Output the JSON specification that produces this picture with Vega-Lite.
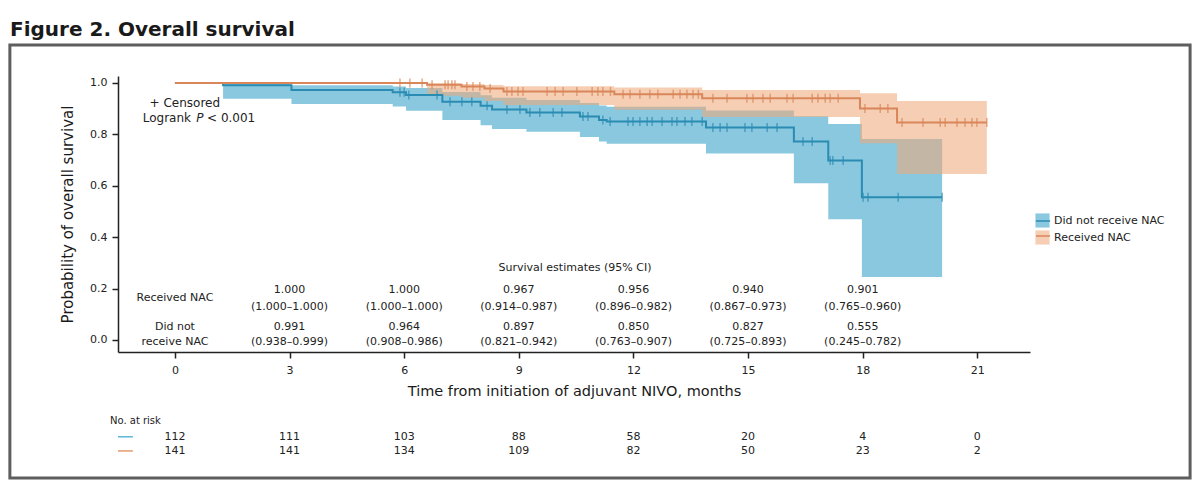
{
  "$schema": "https://vega.github.io/schema/vega-lite/v6.json",
  "width": 912,
  "height": 276,
  "autosize": "none",
  "padding": {"left": 118, "top": 76, "right": 170, "bottom": 136},
  "background": "white",
  "title": {"text": "Figure 2. Overall survival", "anchor": "start", "frame": "group", "dx": -108, "offset": 3, "font": "DejaVu Sans", "fontSize": 20, "fontWeight": "bold", "color": "#1a1a1a"},
  "config": {
    "view": {"stroke": null},
    "font": "DejaVu Sans",
    "text": {"font": "DejaVu Sans", "color": "#222"},
    "axis": {"domainColor": "#222", "tickColor": "#222", "domainWidth": 1.5, "tickWidth": 1.5, "tickSize": 6, "grid": false, "labelFont": "DejaVu Sans", "labelFontSize": 11, "labelColor": "#222", "titleFont": "DejaVu Sans", "titleFontWeight": "normal", "titleColor": "#1a1a1a"}
  },
  "datasets": {
    "km": [
      {"group": "Did not receive NAC", "t": 0, "s": 1.0, "lo": 1.0, "hi": 1.0},
      {"group": "Did not receive NAC", "t": 1.26, "s": 0.991, "lo": 0.938, "hi": 0.999},
      {"group": "Did not receive NAC", "t": 3.05, "s": 0.973, "lo": 0.918, "hi": 0.991},
      {"group": "Did not receive NAC", "t": 5.7, "s": 0.964, "lo": 0.908, "hi": 0.986},
      {"group": "Did not receive NAC", "t": 6.05, "s": 0.953, "lo": 0.892, "hi": 0.98},
      {"group": "Did not receive NAC", "t": 7.0, "s": 0.927, "lo": 0.856, "hi": 0.965},
      {"group": "Did not receive NAC", "t": 8.0, "s": 0.911, "lo": 0.835, "hi": 0.952},
      {"group": "Did not receive NAC", "t": 8.3, "s": 0.897, "lo": 0.821, "hi": 0.942},
      {"group": "Did not receive NAC", "t": 9.2, "s": 0.885, "lo": 0.81, "hi": 0.934},
      {"group": "Did not receive NAC", "t": 10.6, "s": 0.869, "lo": 0.79, "hi": 0.922},
      {"group": "Did not receive NAC", "t": 11.1, "s": 0.856, "lo": 0.772, "hi": 0.912},
      {"group": "Did not receive NAC", "t": 11.3, "s": 0.85, "lo": 0.763, "hi": 0.907},
      {"group": "Did not receive NAC", "t": 13.9, "s": 0.827, "lo": 0.725, "hi": 0.893},
      {"group": "Did not receive NAC", "t": 16.2, "s": 0.772, "lo": 0.61, "hi": 0.87},
      {"group": "Did not receive NAC", "t": 17.1, "s": 0.698, "lo": 0.47, "hi": 0.84},
      {"group": "Did not receive NAC", "t": 17.98, "s": 0.555, "lo": 0.245, "hi": 0.782},
      {"group": "Did not receive NAC", "t": 20.08, "s": 0.555, "lo": 0.245, "hi": 0.782},
      {"group": "Received NAC", "t": 0, "s": 1.0, "lo": 1.0, "hi": 1.0},
      {"group": "Received NAC", "t": 6.6, "s": 0.993, "lo": 0.95, "hi": 0.999},
      {"group": "Received NAC", "t": 7.5, "s": 0.986, "lo": 0.942, "hi": 0.996},
      {"group": "Received NAC", "t": 8.1, "s": 0.978, "lo": 0.93, "hi": 0.992},
      {"group": "Received NAC", "t": 8.6, "s": 0.967, "lo": 0.914, "hi": 0.987},
      {"group": "Received NAC", "t": 11.5, "s": 0.956, "lo": 0.896, "hi": 0.982},
      {"group": "Received NAC", "t": 13.8, "s": 0.94, "lo": 0.867, "hi": 0.973},
      {"group": "Received NAC", "t": 17.93, "s": 0.901, "lo": 0.765, "hi": 0.96},
      {"group": "Received NAC", "t": 18.9, "s": 0.846, "lo": 0.646, "hi": 0.93},
      {"group": "Received NAC", "t": 21.25, "s": 0.846, "lo": 0.646, "hi": 0.93}
    ],
    "censor": [
      {"group": "Did not receive NAC", "t": 5.89, "s": 0.964},
      {"group": "Did not receive NAC", "t": 6.0, "s": 0.964},
      {"group": "Did not receive NAC", "t": 6.12, "s": 0.953},
      {"group": "Did not receive NAC", "t": 6.86, "s": 0.953},
      {"group": "Did not receive NAC", "t": 7.2, "s": 0.927},
      {"group": "Did not receive NAC", "t": 7.51, "s": 0.927},
      {"group": "Did not receive NAC", "t": 7.77, "s": 0.927},
      {"group": "Did not receive NAC", "t": 8.17, "s": 0.911},
      {"group": "Did not receive NAC", "t": 8.69, "s": 0.897},
      {"group": "Did not receive NAC", "t": 9.03, "s": 0.897},
      {"group": "Did not receive NAC", "t": 9.29, "s": 0.885},
      {"group": "Did not receive NAC", "t": 9.55, "s": 0.885},
      {"group": "Did not receive NAC", "t": 9.9, "s": 0.885},
      {"group": "Did not receive NAC", "t": 10.13, "s": 0.885},
      {"group": "Did not receive NAC", "t": 10.68, "s": 0.869},
      {"group": "Did not receive NAC", "t": 10.81, "s": 0.869},
      {"group": "Did not receive NAC", "t": 11.2, "s": 0.856},
      {"group": "Did not receive NAC", "t": 11.39, "s": 0.85},
      {"group": "Did not receive NAC", "t": 11.86, "s": 0.85},
      {"group": "Did not receive NAC", "t": 11.99, "s": 0.85},
      {"group": "Did not receive NAC", "t": 12.17, "s": 0.85},
      {"group": "Did not receive NAC", "t": 12.36, "s": 0.85},
      {"group": "Did not receive NAC", "t": 12.49, "s": 0.85},
      {"group": "Did not receive NAC", "t": 12.75, "s": 0.85},
      {"group": "Did not receive NAC", "t": 13.01, "s": 0.85},
      {"group": "Did not receive NAC", "t": 13.14, "s": 0.85},
      {"group": "Did not receive NAC", "t": 13.35, "s": 0.85},
      {"group": "Did not receive NAC", "t": 13.53, "s": 0.85},
      {"group": "Did not receive NAC", "t": 13.8, "s": 0.85},
      {"group": "Did not receive NAC", "t": 14.08, "s": 0.827},
      {"group": "Did not receive NAC", "t": 14.27, "s": 0.827},
      {"group": "Did not receive NAC", "t": 14.45, "s": 0.827},
      {"group": "Did not receive NAC", "t": 14.92, "s": 0.827},
      {"group": "Did not receive NAC", "t": 15.1, "s": 0.827},
      {"group": "Did not receive NAC", "t": 15.5, "s": 0.827},
      {"group": "Did not receive NAC", "t": 15.76, "s": 0.827},
      {"group": "Did not receive NAC", "t": 16.44, "s": 0.772},
      {"group": "Did not receive NAC", "t": 16.68, "s": 0.772},
      {"group": "Did not receive NAC", "t": 17.15, "s": 0.698},
      {"group": "Did not receive NAC", "t": 17.22, "s": 0.698},
      {"group": "Did not receive NAC", "t": 17.49, "s": 0.698},
      {"group": "Did not receive NAC", "t": 18.01, "s": 0.555},
      {"group": "Did not receive NAC", "t": 18.14, "s": 0.555},
      {"group": "Did not receive NAC", "t": 18.93, "s": 0.555},
      {"group": "Did not receive NAC", "t": 20.08, "s": 0.555},
      {"group": "Received NAC", "t": 5.89, "s": 1.0},
      {"group": "Received NAC", "t": 6.15, "s": 1.0},
      {"group": "Received NAC", "t": 6.47, "s": 1.0},
      {"group": "Received NAC", "t": 6.73, "s": 0.993},
      {"group": "Received NAC", "t": 7.07, "s": 0.993},
      {"group": "Received NAC", "t": 7.15, "s": 0.993},
      {"group": "Received NAC", "t": 7.25, "s": 0.993},
      {"group": "Received NAC", "t": 7.33, "s": 0.993},
      {"group": "Received NAC", "t": 7.64, "s": 0.986},
      {"group": "Received NAC", "t": 7.8, "s": 0.986},
      {"group": "Received NAC", "t": 7.98, "s": 0.986},
      {"group": "Received NAC", "t": 8.25, "s": 0.978},
      {"group": "Received NAC", "t": 8.69, "s": 0.967},
      {"group": "Received NAC", "t": 8.82, "s": 0.967},
      {"group": "Received NAC", "t": 8.98, "s": 0.967},
      {"group": "Received NAC", "t": 9.11, "s": 0.967},
      {"group": "Received NAC", "t": 9.74, "s": 0.967},
      {"group": "Received NAC", "t": 9.95, "s": 0.967},
      {"group": "Received NAC", "t": 10.16, "s": 0.967},
      {"group": "Received NAC", "t": 10.52, "s": 0.967},
      {"group": "Received NAC", "t": 10.92, "s": 0.967},
      {"group": "Received NAC", "t": 11.07, "s": 0.967},
      {"group": "Received NAC", "t": 11.2, "s": 0.967},
      {"group": "Received NAC", "t": 11.4, "s": 0.967},
      {"group": "Received NAC", "t": 11.73, "s": 0.956},
      {"group": "Received NAC", "t": 11.91, "s": 0.956},
      {"group": "Received NAC", "t": 12.17, "s": 0.956},
      {"group": "Received NAC", "t": 12.43, "s": 0.956},
      {"group": "Received NAC", "t": 12.64, "s": 0.956},
      {"group": "Received NAC", "t": 13.04, "s": 0.956},
      {"group": "Received NAC", "t": 13.22, "s": 0.956},
      {"group": "Received NAC", "t": 13.4, "s": 0.956},
      {"group": "Received NAC", "t": 13.56, "s": 0.956},
      {"group": "Received NAC", "t": 13.7, "s": 0.956},
      {"group": "Received NAC", "t": 14.08, "s": 0.94},
      {"group": "Received NAC", "t": 14.45, "s": 0.94},
      {"group": "Received NAC", "t": 14.97, "s": 0.94},
      {"group": "Received NAC", "t": 15.13, "s": 0.94},
      {"group": "Received NAC", "t": 15.39, "s": 0.94},
      {"group": "Received NAC", "t": 15.58, "s": 0.94},
      {"group": "Received NAC", "t": 16.02, "s": 0.94},
      {"group": "Received NAC", "t": 16.18, "s": 0.94},
      {"group": "Received NAC", "t": 16.68, "s": 0.94},
      {"group": "Received NAC", "t": 16.83, "s": 0.94},
      {"group": "Received NAC", "t": 17.02, "s": 0.94},
      {"group": "Received NAC", "t": 17.15, "s": 0.94},
      {"group": "Received NAC", "t": 17.36, "s": 0.94},
      {"group": "Received NAC", "t": 18.06, "s": 0.901},
      {"group": "Received NAC", "t": 18.46, "s": 0.901},
      {"group": "Received NAC", "t": 18.66, "s": 0.901},
      {"group": "Received NAC", "t": 19.03, "s": 0.846},
      {"group": "Received NAC", "t": 19.58, "s": 0.846},
      {"group": "Received NAC", "t": 20.03, "s": 0.846},
      {"group": "Received NAC", "t": 20.16, "s": 0.846},
      {"group": "Received NAC", "t": 20.47, "s": 0.846},
      {"group": "Received NAC", "t": 20.68, "s": 0.846},
      {"group": "Received NAC", "t": 20.86, "s": 0.846},
      {"group": "Received NAC", "t": 20.99, "s": 0.846},
      {"group": "Received NAC", "t": 21.25, "s": 0.846}
    ],
    "est": [
      {"group": "Received NAC", "month": 3, "est": "1.000", "ci": "(1.000–1.000)"},
      {"group": "Received NAC", "month": 6, "est": "1.000", "ci": "(1.000–1.000)"},
      {"group": "Received NAC", "month": 9, "est": "0.967", "ci": "(0.914–0.987)"},
      {"group": "Received NAC", "month": 12, "est": "0.956", "ci": "(0.896–0.982)"},
      {"group": "Received NAC", "month": 15, "est": "0.940", "ci": "(0.867–0.973)"},
      {"group": "Received NAC", "month": 18, "est": "0.901", "ci": "(0.765–0.960)"},
      {"group": "Did not receive NAC", "month": 3, "est": "0.991", "ci": "(0.938–0.999)"},
      {"group": "Did not receive NAC", "month": 6, "est": "0.964", "ci": "(0.908–0.986)"},
      {"group": "Did not receive NAC", "month": 9, "est": "0.897", "ci": "(0.821–0.942)"},
      {"group": "Did not receive NAC", "month": 12, "est": "0.850", "ci": "(0.763–0.907)"},
      {"group": "Did not receive NAC", "month": 15, "est": "0.827", "ci": "(0.725–0.893)"},
      {"group": "Did not receive NAC", "month": 18, "est": "0.555", "ci": "(0.245–0.782)"}
    ],
    "risk": [
      {"group": "Did not receive NAC", "month": 0, "n": 112},
      {"group": "Did not receive NAC", "month": 3, "n": 111},
      {"group": "Did not receive NAC", "month": 6, "n": 103},
      {"group": "Did not receive NAC", "month": 9, "n": 88},
      {"group": "Did not receive NAC", "month": 12, "n": 58},
      {"group": "Did not receive NAC", "month": 15, "n": 20},
      {"group": "Did not receive NAC", "month": 18, "n": 4},
      {"group": "Did not receive NAC", "month": 21, "n": 0},
      {"group": "Received NAC", "month": 0, "n": 141},
      {"group": "Received NAC", "month": 3, "n": 141},
      {"group": "Received NAC", "month": 6, "n": 134},
      {"group": "Received NAC", "month": 9, "n": 109},
      {"group": "Received NAC", "month": 12, "n": 82},
      {"group": "Received NAC", "month": 15, "n": 50},
      {"group": "Received NAC", "month": 18, "n": 23},
      {"group": "Received NAC", "month": 21, "n": 2}
    ]
  },
  "layer": [
    {
      "data": {"values": [{}]},
      "mark": {"type": "rect", "fill": "white", "fillOpacity": 0, "stroke": "#5e5e5e", "strokeWidth": 3},
      "encoding": {
        "x": {"datum": -4.32, "type": "quantitative", "scale": {"domain": [-1.49, 22.38], "nice": false, "zero": false},
              "axis": {"values": [0, 3, 6, 9, 12, 15, 18, 21], "title": "Time from initiation of adjuvant NIVO, months", "titleFontSize": 14.5, "titlePadding": 9, "labelPadding": 6}},
        "x2": {"datum": 26.57},
        "y": {"datum": 1.148, "type": "quantitative", "scale": {"domain": [-0.047, 1.027], "nice": false, "zero": false},
              "axis": {"values": [0, 0.2, 0.4, 0.6, 0.8, 1.0], "format": ".1f", "title": "Probability of overall survival", "titleFontSize": 15, "titlePadding": 14, "labelPadding": 5}},
        "y2": {"datum": -0.537}
      }
    },
    {
      "data": {"name": "km"},
      "mark": {"type": "area", "interpolate": "step-after", "fillOpacity": 0.57},
      "encoding": {
        "x": {"field": "t", "type": "quantitative"},
        "y": {"field": "lo", "type": "quantitative"},
        "y2": {"field": "hi"},
        "fill": {"field": "group", "type": "nominal",
                 "scale": {"domain": ["Did not receive NAC", "Received NAC"], "range": ["#309ec5", "#efa979"]},
                 "legend": {"orient": "none", "legendX": 917, "legendY": 137, "title": null, "symbolType": "square", "symbolSize": 200, "symbolOpacity": 0.57, "symbolStrokeWidth": 0, "labelFontSize": 11, "labelFont": "DejaVu Sans", "labelColor": "#222", "labelOffset": 4, "rowPadding": 2}}
      }
    },
    {
      "data": {"name": "km"},
      "mark": {"type": "line", "interpolate": "step-after", "strokeWidth": 2},
      "encoding": {
        "x": {"field": "t", "type": "quantitative"},
        "y": {"field": "s", "type": "quantitative"},
        "stroke": {"field": "group", "type": "nominal",
                   "scale": {"range": ["#2b8cb3", "#d9865a"]},
                   "legend": {"orient": "none", "legendX": 917, "legendY": 137, "title": null, "symbolType": "stroke", "symbolSize": 200, "symbolStrokeWidth": 1.5, "labelFontSize": 11, "labelFont": "DejaVu Sans", "labelOpacity": 0, "labelOffset": 4, "rowPadding": 2}}
      }
    },
    {
      "data": {"name": "censor"},
      "mark": {"type": "tick", "orient": "vertical", "size": 9, "thickness": 1.5},
      "encoding": {
        "x": {"field": "t", "type": "quantitative"},
        "y": {"field": "s", "type": "quantitative"},
        "color": {"field": "group", "type": "nominal", "scale": {"range": ["#2b8cb3", "#d9865a"]}, "legend": null}
      }
    },
    {
      "data": {"values": [{"label": "+ Censored"}]},
      "mark": {"type": "text", "fontSize": 12, "align": "center", "baseline": "middle"},
      "encoding": {"x": {"datum": 0.26}, "y": {"datum": 0.922}, "text": {"field": "label"}}
    },
    {
      "data": {"values": [{"label": "Logrank"}]},
      "mark": {"type": "text", "fontSize": 12, "align": "right", "baseline": "middle"},
      "encoding": {"x": {"datum": 0.42}, "y": {"datum": 0.864}, "text": {"field": "label"}}
    },
    {
      "data": {"values": [{"label": "P"}]},
      "mark": {"type": "text", "fontSize": 12, "fontStyle": "italic", "align": "center", "baseline": "middle"},
      "encoding": {"x": {"datum": 0.65}, "y": {"datum": 0.864}, "text": {"field": "label"}}
    },
    {
      "data": {"values": [{"label": "< 0.001"}]},
      "mark": {"type": "text", "fontSize": 12, "align": "left", "baseline": "middle"},
      "encoding": {"x": {"datum": 0.84}, "y": {"datum": 0.864}, "text": {"field": "label"}}
    },
    {
      "data": {"values": [{"label": "Survival estimates (95% CI)"}]},
      "mark": {"type": "text", "fontSize": 11, "align": "center", "baseline": "middle"},
      "encoding": {"x": {"datum": 10.47}, "y": {"datum": 0.28}, "text": {"field": "label"}}
    },
    {
      "data": {"values": [{"label": "Received NAC"}]},
      "mark": {"type": "text", "fontSize": 11, "align": "center", "baseline": "middle"},
      "encoding": {"x": {"datum": 0}, "y": {"datum": 0.163}, "text": {"field": "label"}}
    },
    {
      "data": {"values": [{"label": "Did not"}]},
      "mark": {"type": "text", "fontSize": 11, "align": "center", "baseline": "middle"},
      "encoding": {"x": {"datum": 0}, "y": {"datum": 0.051}, "text": {"field": "label"}}
    },
    {
      "data": {"values": [{"label": "receive NAC"}]},
      "mark": {"type": "text", "fontSize": 11, "align": "center", "baseline": "middle"},
      "encoding": {"x": {"datum": 0}, "y": {"datum": -0.008}, "text": {"field": "label"}}
    },
    {
      "data": {"name": "est"},
      "transform": [{"filter": "datum.group === 'Received NAC'"}],
      "mark": {"type": "text", "fontSize": 11, "align": "center", "baseline": "middle"},
      "encoding": {"x": {"field": "month", "type": "quantitative"}, "y": {"datum": 0.195}, "text": {"field": "est"}}
    },
    {
      "data": {"name": "est"},
      "transform": [{"filter": "datum.group === 'Received NAC'"}],
      "mark": {"type": "text", "fontSize": 11, "align": "center", "baseline": "middle"},
      "encoding": {"x": {"field": "month", "type": "quantitative"}, "y": {"datum": 0.128}, "text": {"field": "ci"}}
    },
    {
      "data": {"name": "est"},
      "transform": [{"filter": "datum.group === 'Did not receive NAC'"}],
      "mark": {"type": "text", "fontSize": 11, "align": "center", "baseline": "middle"},
      "encoding": {"x": {"field": "month", "type": "quantitative"}, "y": {"datum": 0.051}, "text": {"field": "est"}}
    },
    {
      "data": {"name": "est"},
      "transform": [{"filter": "datum.group === 'Did not receive NAC'"}],
      "mark": {"type": "text", "fontSize": 11, "align": "center", "baseline": "middle"},
      "encoding": {"x": {"field": "month", "type": "quantitative"}, "y": {"datum": -0.008}, "text": {"field": "ci"}}
    },
    {
      "data": {"values": [{"label": "No. at risk"}]},
      "mark": {"type": "text", "fontSize": 10, "align": "left", "baseline": "middle"},
      "encoding": {"x": {"datum": -1.70}, "y": {"datum": -0.315}, "text": {"field": "label"}}
    },
    {
      "data": {"values": [{}]},
      "mark": {"type": "rule", "stroke": "#5bb8d6", "strokeWidth": 1.5},
      "encoding": {"x": {"datum": -1.49}, "x2": {"datum": -1.1}, "y": {"datum": -0.377}}
    },
    {
      "data": {"values": [{}]},
      "mark": {"type": "rule", "stroke": "#e59a6e", "strokeWidth": 1.5},
      "encoding": {"x": {"datum": -1.49}, "x2": {"datum": -1.1}, "y": {"datum": -0.432}}
    },
    {
      "data": {"name": "risk"},
      "transform": [{"filter": "datum.group === 'Did not receive NAC'"}],
      "mark": {"type": "text", "fontSize": 11, "align": "center", "baseline": "middle"},
      "encoding": {"x": {"field": "month", "type": "quantitative"}, "y": {"datum": -0.377}, "text": {"field": "n"}}
    },
    {
      "data": {"name": "risk"},
      "transform": [{"filter": "datum.group === 'Received NAC'"}],
      "mark": {"type": "text", "fontSize": 11, "align": "center", "baseline": "middle"},
      "encoding": {"x": {"field": "month", "type": "quantitative"}, "y": {"datum": -0.432}, "text": {"field": "n"}}
    }
  ]
}
